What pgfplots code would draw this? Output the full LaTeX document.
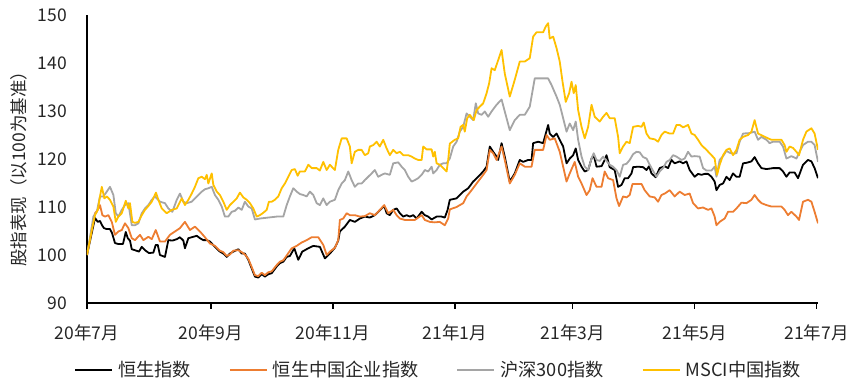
\documentclass[border=0pt]{standalone}
\usepackage{fontspec}
\setmainfont{Noto Sans CJK SC}
\usepackage{pgfplots}
\usepackage{pgfplotstable}
\pgfplotsset{compat=1.18}
\definecolor{cBlack}{HTML}{000000}
\definecolor{cOrange}{HTML}{ED7D31}
\definecolor{cGray}{HTML}{A5A5A5}
\definecolor{cYellow}{HTML}{FFC000}

\pgfplotstableread{
x y
0 100
4 107.7
5.4 106.9
6.5 107.1
7.5 106.2
8.5 105.6
9.9 105.4
11.5 105.4
12.5 104.6
14 102.5
15.5 102.3
18 102.3
19.4 104.8
20.4 103.5
21.5 103
22.4 101.2
24 101
26 100.7
27.4 101.7
29 101
31 100.4
33.2 100.5
34.4 102.1
35.4 102.1
36.5 100
39 99.6
40.7 103.1
42.7 103
44.9 103.3
46.5 103.7
48.2 103
49 101.4
50.7 103.5
52.4 103.7
54.9 104
56.5 103.5
58.2 103.1
59.9 103.1
61.5 102.8
64 101.7
66.5 100.7
68.2 100.3
69.9 99.6
71.5 100.3
73.2 100.7
75.7 101.2
77.4 100.3
79 100.3
80.7 99
82.4 97.2
84 95.5
85.7 95.3
87.4 96
89 95.5
90.7 96
92.4 96.2
94.9 97.6
96.5 98.3
98.2 98.6
99.9 99.6
101.5 99.8
103.7 101.4
105.7 99
107.7 100.7
110.7 101.4
113.2 101.9
116.5 101.7
119 99.3
121.5 100.3
124 101.5
125.7 103
126.5 104.9
129 105.9
131.5 107.3
134 106.9
136.5 107.6
139 108
141.5 107.8
144 108.3
145.7 109
147.4 109.7
148.7 110.2
149.9 108.7
151.5 108.3
153.2 109.4
154.9 109.7
156.5 108.7
158.2 108
159.9 108.3
161.5 108
163.2 108.3
164.9 107.6
167.4 109
169 108.3
170.7 108
172.4 107.4
174.9 108
177.4 108
179 107.8
180.4 109.4
181.5 111.5
184.9 111.8
188.2 113.2
190.7 113.9
193.2 115.3
195.7 116.3
198.2 117.4
199.9 118.4
201.5 122.6
203.2 121.5
204.9 120.5
205.7 119.8
207.4 123.3
209 120.5
211.5 115.3
214 117
216.5 119.8
218.2 119.4
220.7 119.8
222.4 119.8
223.2 123.3
225.7 123.6
228.2 123.3
230.7 127.1
231.5 125.3
233.2 124.6
234.9 125.3
236.5 124
238.2 122.6
239.9 119.1
241.5 120.1
243.2 120.8
244.5 122.2
245.7 119.8
247.4 118.4
249 117.4
250.7 117.7
252.4 120.1
253.5 120.8
254.9 118.4
257.4 118.5
259 119.8
259.9 120.8
261.5 118.3
264 117.7
265.7 114.2
267.4 114.6
269 116
270.7 116
272.4 117
273.2 118.3
275.7 118.4
278.2 118.3
279.9 117.7
281.2 118.5
282.4 117
284.5 116.2
286.5 118.1
289 118.5
290.7 118.1
292.4 119.8
294 119.1
296.5 119.5
298.2 119.1
299.9 119.5
301.5 117.7
304 116.3
305.7 116.9
307.4 116.7
309 116.9
310.7 116.9
312.4 116.3
314 115.3
314.9 113.5
316.5 114.6
318.2 114.9
319.9 116.3
321.5 115.6
323.2 117
324.9 116.3
326.5 116.3
328.2 119.1
329.9 119.2
332.4 119.5
334 120.4
335.7 119.1
337.4 118.1
339.9 117.9
343.2 118.1
346.5 118.1
348.2 117.4
349.9 116.3
351.5 117.2
354 117.2
355.7 116
358.2 118.8
360.7 119.8
362.4 119.5
364 118.1
365.7 116
}\hsi

\pgfplotstableread{
x y
0 100
4 108.7
5.4 109.4
6.5 110.4
7.7 108.3
9 108
10.7 108.3
12.4 106.9
14 104.2
15.7 104.9
17.4 105.2
19 106.6
20.7 105.6
22.4 103.5
24 103.1
26.5 104.2
28.2 103.1
30.7 103.8
32.4 103.3
34.4 105.2
36.5 102.8
39 102.8
41.5 104.2
44 104.9
46.5 105.6
49 106.9
51.5 105.2
54 105.9
56.5 104.9
59 103.7
61.5 102.4
64 101.9
66.5 100.9
68.2 100.6
69.9 99.8
71.5 100.1
73.2 100.9
75.7 101
77.4 100.6
79 100.1
80.7 99.2
82.4 97.5
84 95.8
85.7 95.6
87.4 96.3
89 95.8
90.7 96.4
92.4 96.6
94.9 97.9
96.5 98.6
98.2 98.9
99.9 99.9
102.4 101.4
104.9 101.9
107.4 102.6
109.9 103.1
112.4 103.7
115.7 103.7
118.2 102.1
119.9 100
121.5 100.7
124 101.5
125.7 103.1
126.5 107.3
128.2 107.6
129.9 108.7
131.5 108.3
134 108.3
136.5 108
139 108.1
141.5 108.7
144 108.3
146.5 109.4
148.7 110.4
150.7 108.7
153.2 109.4
154.9 108.3
156.5 107.6
159 107.3
161.5 107.3
164 107.3
167.4 108.3
169 107.3
171.5 106.9
174 106.8
176.5 106.9
179 106.2
180.7 107.6
181.5 109.5
184.9 110
188.2 110.8
189.9 112.2
192.4 113.5
194.9 114.9
198.2 116.7
199.9 117.7
201.5 121.9
203.2 121.2
204.9 119.8
207.4 122.6
209 119.8
211.5 114.9
214 116.7
216.5 119.1
219 118.4
222.4 118.4
224 121.9
228.2 121.9
229.9 125
231.5 124
234 124.3
236.5 121.5
238.2 118.4
239.9 115.3
241.5 117
244 119.4
245.7 116.3
247.4 114.9
249.9 112.5
251.5 113.5
252.9 116
254.9 114.2
257.4 114.2
259 117.4
260.7 116
263.2 115.6
264.9 111.8
266.2 110.2
268.2 112.2
269.9 112
271.5 112.5
272.9 114.8
274.9 114.8
277.4 114.8
279 113.5
281.5 112.2
284 112
285.7 111.1
287.4 112.5
289 112.8
291.5 113.5
294 112.2
296.5 113.2
299 112.5
301.5 112.8
303.2 110.8
305.7 109.7
308.2 109.9
310.7 109.4
312.4 109.7
314 108
314.9 106.2
316.5 106.9
319 107.6
320.7 109
323.2 109
324.9 109.7
327.4 110.9
329.9 110.8
332.4 111.5
334 112.5
335.7 111.5
337.4 110.8
339.9 110.4
342.4 110.1
344.9 110.1
347.4 110.1
349 109.4
350.7 108.3
352.4 109
354.9 108
356.2 107.3
358.2 111.1
360.7 111.5
362.4 111.1
364 109
365.7 106.6
}\hscei

\pgfplotstableread{
x y
0 100
3.2 108
4.9 109
6.5 112.2
8.2 112.2
9.9 113.2
11.5 114.2
13.2 112.5
14.4 108.7
15.7 108
17.4 109.4
19 110.4
20.7 110.8
22.4 106.2
24 106.2
25.7 106.6
27.4 108.7
29 109.7
30.7 110.4
32.4 111.5
34 112.2
36.5 111.1
39 110.8
40.7 109.7
42.7 109
44.9 111.5
46.5 112.8
48.2 111.1
49.9 110.8
52.4 111.1
54 111.8
55.7 112.5
57.4 113.2
59 113.7
60.7 113.9
62.4 114.2
64 112.5
65.7 111.5
67.4 110.1
69 108
70.7 108
72.4 109
74 109.2
75.7 109.9
77.4 109.4
79 111.1
80.7 110.1
82.4 109.7
84 107.4
86.5 107.6
90.7 107.8
94.9 108
98.2 108
99.9 110.4
101.5 112.2
103.2 113.9
104.9 113.2
106.5 112.7
108.2 112.5
109.9 112.2
111.5 113.2
113.2 112.5
114.9 110.8
116.5 110.4
118.2 111.8
119.9 110.4
121.5 111.1
124 111.5
125.7 113.5
127.4 114.9
129 115.6
130.7 117.4
132.4 115.6
134 114.2
135.7 114.9
137.4 114.9
139 115.6
140.7 116.3
142.4 117
144 117.7
145.7 116.3
147.4 116.7
149 117
151.5 116.7
153.2 119.1
155.7 119.3
157.4 118.4
159 117.7
160.7 116.3
162.4 115.3
164 115.6
165.7 116
167.4 116.7
169 117.7
170.7 117.4
172.4 118.4
173.2 117
174.9 117.7
176.5 118.8
178.2 119.1
179.9 119.1
181.5 120.1
183.2 122.6
184.9 123.6
186.5 125.7
188.2 126.7
189.9 129.5
191.5 128.8
193.2 128.1
194.5 131.6
195.7 129.5
197.4 129.2
199 129.9
200.7 128.8
202.4 129.9
204.9 131.3
207.4 132.4
209 129.9
211.5 126
214 128.1
216.5 129.2
219 129.2
221.5 130.9
224 136.8
228.2 136.8
230.7 136.8
232.4 135.4
234.9 133
236.5 131.3
238.2 128.5
239.9 125.7
241.5 127.4
243.2 126
244.5 127.8
245.7 124
247.4 120.5
249 118.4
250.7 117.7
252.4 120.1
253.5 121.2
254.9 119.8
256.5 119.6
258.2 120.5
259.9 119.6
261.5 118.8
263.2 118.4
264.9 117.7
266.5 116.3
268.2 118.8
269.9 119
271.5 119.8
273.2 121
274.9 121.5
276.5 121.4
278.2 120.4
279.9 120.1
282.4 118.1
284.9 116.3
286.5 117.4
288.2 118.1
289.9 119.4
291.5 119.8
293.2 120.8
294.9 120.5
297.4 119.8
299 120.1
300.7 121.5
302.4 120.5
304 120.6
306.5 120.5
308.2 118.1
309.9 117.6
312.4 117.6
314 118.4
314.9 116.3
316.5 119.8
318.2 120.6
319.9 121.7
321.5 121.3
323.2 121.1
324.9 121.2
326.5 123.6
328.2 125.3
331.5 125.4
334 125.7
335.7 124
337.4 124.6
339.9 124
341.5 123.3
343.2 123.6
346.5 123.6
348.2 122.6
349.9 120.1
352.4 120.6
354.9 120.1
356.5 121.5
358.2 122.9
360.7 123.6
362.4 123.6
364 122.9
365.7 119.4
}\csi

\pgfplotstableread{
x y
0 100
2.4 105.2
4 108.3
5.4 109.4
6.5 112.2
7.4 114.2
8.7 111.8
9.9 112.2
11.5 111.5
13.2 110.1
14.4 106.9
15.7 108
17.4 108.7
19.4 111.3
20.7 109.7
21.5 110.8
22.7 106.9
24 106.7
25.7 106.9
27.4 108.3
29 109.4
30.7 110.2
32.4 111.1
34.5 113
35.7 111.5
37.4 109.7
39.9 108.7
42.4 109.4
44.9 109.7
47.4 111.8
49 110.4
50.7 111.5
52.4 112.8
54 114.2
55.7 116
57.4 116.3
59 115.8
59.9 116.7
60.7 114.9
62.4 117
63.2 114.6
64.9 113.2
66.5 112.5
68.2 111.1
69.9 109.4
71.5 110.4
73.2 111.1
74.9 111.8
76.5 113
78.2 112
79.9 111.5
81.5 110.8
83.2 109.7
84.9 108
86.5 108.3
88.2 108.8
89.9 109.4
91 111.1
92.4 111.1
94 111.5
95.7 112.2
97.4 113.9
99 114.9
100.7 116.3
102.4 117.7
104 117.9
105.4 116.5
106.5 117.4
109 117.4
110.7 118.8
112.4 118.1
114.9 118.1
116.5 117.6
118.2 119.4
119.9 117.7
121.5 118.8
122.4 118.4
124 117.7
125.7 121.9
127.4 124.3
129.9 124.3
131.5 122.6
132.4 119.1
134 121.5
135.7 121.9
137.4 121.9
139 120.8
140.7 121.2
141.5 122.6
143.2 122.9
144.9 123.6
146.5 122.6
148.2 124
149.9 122.2
151.5 120.8
153.2 121.9
154.9 121.2
156.5 121.5
158.2 120.8
160.7 120.8
162.4 120.5
164 120.1
165.7 119.8
167.4 119.8
168.2 122.6
169.9 122
172.4 122
173.2 120.5
174 121.5
174.9 119.1
176.5 118.8
178.2 118.1
179.9 117.4
180.7 119.8
181.5 123.2
184 124
185.7 124.3
186.9 126.7
188.2 127.1
189 125.7
190.2 128.5
191.5 129.2
193.5 128.1
194.9 130.2
196.5 130.9
198.2 131.6
199.9 133.7
201.2 135.8
202.4 138.9
204 138.5
205.7 140.6
207.4 142.7
209 137.8
211.5 133
214 136.5
216.5 140.3
219 140.3
221.5 141
223.2 145.5
224.9 146.4
228.2 146.4
229.5 147.6
230.7 148.3
231.5 145.1
233.2 145.5
234.9 143.1
236.5 140.3
237.9 136.1
239.5 131.9
241.2 133.7
242.4 136.1
243.5 133.7
244.5 135.4
245.7 130.2
247.4 126.7
249 124.3
250.7 126.7
252.4 131.3
254 128.8
256.5 127.8
258.2 128.8
259.9 129.6
261.5 128.5
264 128.5
265.7 124.6
266.5 121.2
268.2 122.6
269.9 123.6
271.5 123.3
273.2 126.7
275.7 126.9
277.4 126.7
278.5 127.6
279.9 125.3
281.5 124.3
284 124.1
285.7 123.6
287.4 125
289 125.7
291.5 125.3
293.2 125.3
294.9 127.1
296.5 127.1
298.2 126.6
300.7 127.1
302.4 125.3
304 125
305.7 124
307.4 122.9
309.9 121.9
312.4 120.8
314 120.1
315.2 116.7
316.5 118.8
318.2 120.8
319.9 121.9
321.5 122.2
323.2 120.8
324.9 121.9
326.5 124
328.2 124.6
330.7 125
332.4 125.7
334 128.1
335.7 125.3
338.2 124.8
340.7 124.3
342.4 124
344.9 124
347.4 124
349 122.9
349.9 121.5
351.5 122.6
353.2 122.3
354.9 121.5
356.2 120.8
358.2 124
359.9 125.7
362.4 126.4
364 125.3
365.7 121.9
}\msci

\begin{document}
\fontsize{17.5}{21}\selectfont
\begin{tikzpicture}
\begin{axis}[
  name=ax,
  scale only axis,
  width=731pt, height=288pt,
  xmin=0, xmax=365.7,
  ymin=90, ymax=150,
  ytick={90,100,...,150},
  xtick={0,62,123,184,243,304,365},
  xticklabels={20年7月,20年9月,20年11月,21年1月,21年3月,21年5月,21年7月},
  axis x line*=bottom,
  axis y line*=left,
  axis line style={-, line width=1.4pt, black},
  tick align=outside,
  major tick length=6pt,
  xtick style={line width=1.4pt, black},
  ytick style={draw=none},
  /pgf/number format/assume math mode=true,
  tick label style={font=\fontsize{17.5}{21}\selectfont, text=black!85},
  yticklabel style={xshift=-8pt},
  xticklabel style={yshift=-10pt},
  ylabel={股指表现（以100为基准）},
  ylabel style={at={(axis description cs:-0.093,0.48)}, anchor=center, rotate=0, font=\fontsize{17.5}{21}\selectfont, text=black!85},
  legend columns=4,
  legend style={draw=none, fill=none, at={(axis description cs:0.4795,-0.232)}, anchor=center,
    font=\fontsize{18.2}{22}\selectfont, text=black!85,
    /tikz/every odd column/.append style={column sep=5pt},
    /tikz/every even column/.append style={column sep=38pt},
    nodes={inner sep=0pt}},
  legend image code/.code={\draw[#1, line width=2pt] (0pt,0pt) -- (37pt,0pt);},
  every axis plot/.append style={line width=1.8pt, line join=round, mark=none},
  clip=true,
]
\addplot[cBlack] table[x=x,y=y]{\hsi};
\addlegendentry{恒生指数}
\addplot[cOrange] table[x=x,y=y]{\hscei};
\addlegendentry{恒生中国企业指数}
\addplot[cGray] table[x=x,y=y]{\csi};
\addlegendentry{沪深300指数}
\addplot[cYellow] table[x=x,y=y]{\msci};
\addlegendentry{MSCI中国指数}
\end{axis}
\pgfresetboundingbox
\path[use as bounding box] ([xshift=-87pt,yshift=-82pt]ax.south west) rectangle ([xshift=36pt,yshift=15pt]ax.north east);
\end{tikzpicture}
\end{document}
